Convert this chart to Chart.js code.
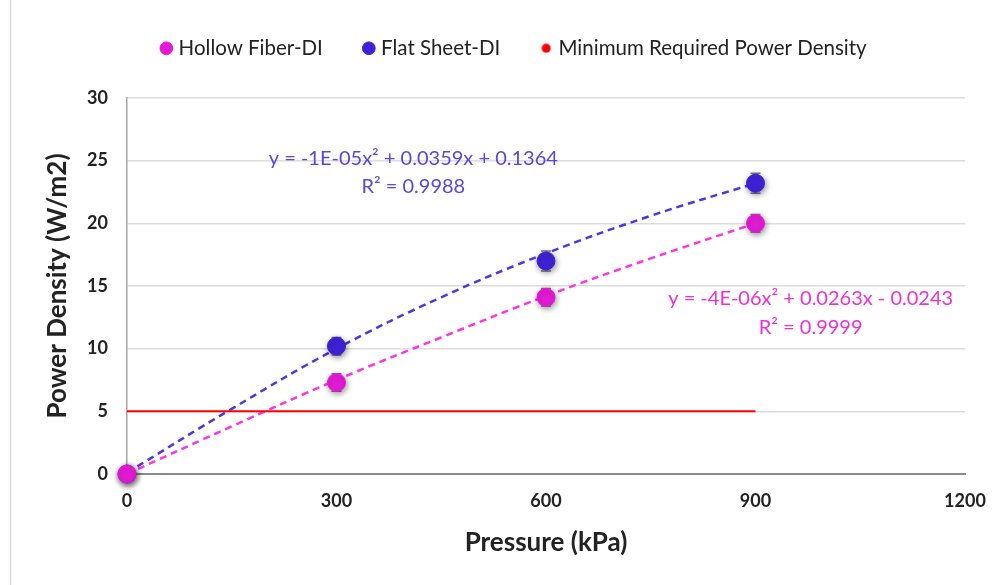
<!DOCTYPE html>
<html>
<head>
<meta charset="utf-8">
<script src="https://cdn.jsdelivr.net/npm/chart.js@4.4.0/dist/chart.umd.min.js"></script>
<style>
  body { margin: 0; background: #fff; }
  #wrap { width: 1003px; height: 585px; }
</style>
</head>
<body>
<div id="wrap"><canvas id="chartCanvas"></canvas></div>
<script>
// pressure (kPa) of the measured points
const pressure = [0, 300, 600, 900];
const hollowFiber = [0, 7.3, 14.1, 20.0];
const flatSheet = [0, 10.2, 17.0, 23.2];
const hollowErr = [0.3, 0.7, 0.7, 0.7];
const flatErr = [0.3, 0.7, 0.8, 0.8];

// trendline points
const trendX = [0, 150, 300, 450, 600, 750, 900];
const hollowTrend = [0, 3.8, 7.5, 10.9, 14.2, 17.2, 20.0];
const flatTrend = [0.1, 5.2, 10.0, 14.1, 17.6, 20.6, 23.2];

// minimum required power density line
const minX = [0, 900];
const minY = [5, 5];

const xTicks = [0, 300, 600, 900, 1200];

const pink = '#e41bd6';
const blue = '#3f22d6';
const FONT = 'Lato, "Open Sans", sans-serif';

const toXY = (xs, ys) => xs.map((x, i) => ({ x: x, y: ys[i] }));

// small red dot for the legend
const redDot = document.createElement('canvas');
redDot.width = 10; redDot.height = 10;
(function () {
  const c = redDot.getContext('2d');
  c.fillStyle = '#ff0000';
  c.beginPath(); c.arc(5, 5, 4.5, 0, Math.PI * 2); c.fill();
})();

// error bars behind markers + a light shadow on the markers
const errorBars = {
  id: 'errorBars',
  beforeDatasetsDraw(chart) {
    const ctx = chart.ctx;
    const xs = chart.scales.x, ys = chart.scales.y;
    [[hollowFiber, hollowErr], [flatSheet, flatErr]].forEach(([vals, errs]) => {
      vals.forEach((v, i) => {
        const px = xs.getPixelForValue(pressure[i]);
        const top = ys.getPixelForValue(v + errs[i]);
        const bot = ys.getPixelForValue(v - errs[i]);
        ctx.save();
        ctx.strokeStyle = '#7a7a7a';
        ctx.lineWidth = 1.5;
        ctx.beginPath();
        ctx.moveTo(px, top); ctx.lineTo(px, bot);
        ctx.moveTo(px - 5, top); ctx.lineTo(px + 5, top);
        ctx.moveTo(px - 5, bot); ctx.lineTo(px + 5, bot);
        ctx.stroke();
        ctx.restore();
      });
    });
  },
  beforeDatasetDraw(chart, args) {
    if (args.meta.type === 'scatter') {
      const ctx = chart.ctx;
      ctx.save();
      ctx.shadowColor = 'rgba(0,0,0,0.45)';
      ctx.shadowBlur = 6;
      ctx.shadowOffsetX = 1;
      ctx.shadowOffsetY = 2;
    }
  },
  afterDatasetDraw(chart, args) {
    if (args.meta.type === 'scatter') chart.ctx.restore();
  }
};

// trendline equations
const equations = {
  id: 'equations',
  afterDatasetsDraw(chart) {
    const ctx = chart.ctx;
    const xs = chart.scales.x, ys = chart.scales.y;
    ctx.save();
    ctx.font = '20px ' + FONT;
    ctx.textAlign = 'center';
    ctx.textBaseline = 'middle';
    ctx.fillStyle = '#5a47e0';
    let cx = xs.getPixelForValue(410);
    ctx.fillText('y = -1E-05x² + 0.0359x + 0.1364', cx, ys.getPixelForValue(25.2));
    ctx.fillText('R² = 0.9988', cx, ys.getPixelForValue(22.95));
    ctx.fillStyle = '#ef2fd3';
    cx = xs.getPixelForValue(979);
    ctx.fillText('y = -4E-06x² + 0.0263x - 0.0243', cx, ys.getPixelForValue(14.0));
    ctx.fillText('R² = 0.9999', cx, ys.getPixelForValue(11.7));
    ctx.restore();
  }
};

// frame line, extra room under the legend, legend nudged into place
const frame = {
  id: 'frame',
  beforeInit(chart) {
    const fit = chart.legend.fit;
    chart.legend.fit = function () {
      fit.bind(chart.legend)();
      this.height = 98 - 20;
    };
  },
  afterLayout(chart) {
    const lg = chart.legend;
    lg.left += 12;
    lg.right += 12;
    lg.top -= 26;
    lg.bottom -= 26;
  },
  beforeDraw(chart) {
    const ctx = chart.ctx;
    ctx.save();
    ctx.strokeStyle = '#d9d9d9';
    ctx.lineWidth = 1.5;
    ctx.beginPath();
    ctx.moveTo(10.5, 0); ctx.lineTo(10.5, 585);
    ctx.stroke();
    ctx.restore();
  }
};

const ctx = document.getElementById('chartCanvas').getContext('2d');

new Chart(ctx, {
  data: {
    datasets: [
      {
        type: 'scatter',
        label: 'Hollow Fiber-DI',
        data: toXY(pressure, hollowFiber),
        backgroundColor: pink,
        borderColor: pink,
        pointRadius: 9,
        pointStyle: 'circle',
        clip: false,
        order: 0
      },
      {
        type: 'scatter',
        label: 'Flat Sheet-DI',
        data: toXY(pressure, flatSheet),
        backgroundColor: blue,
        borderColor: blue,
        pointRadius: 9,
        pointStyle: 'circle',
        clip: false,
        order: 0
      },
      {
        type: 'line',
        label: 'Minimum Required Power Density',
        data: toXY(minX, minY),
        borderColor: '#ff0000',
        backgroundColor: '#ff0000',
        borderWidth: 2,
        pointRadius: 0,
        pointStyle: redDot,
        order: 1
      },
      {
        type: 'line',
        label: 'trendHollow',
        data: toXY(trendX, hollowTrend),
        borderColor: '#ff33e0',
        borderWidth: 2.5,
        borderDash: [7, 5],
        pointRadius: 0,
        tension: 0.4,
        order: 2
      },
      {
        type: 'line',
        label: 'trendFlat',
        data: toXY(trendX, flatTrend),
        borderColor: '#4a35e8',
        borderWidth: 2.5,
        borderDash: [7, 5],
        pointRadius: 0,
        tension: 0.4,
        order: 2
      }
    ]
  },
  options: {
    responsive: true,
    maintainAspectRatio: false,
    animation: false,
    layout: { padding: { left: 42, right: 38, top: 20, bottom: 27 } },
    scales: {
      x: {
        type: 'linear',
        min: 0,
        max: 1200,
        afterBuildTicks: (scale) => { scale.ticks = xTicks.map(v => ({ value: v })); },
        afterFit: (scale) => { scale.height = 585 - 474 - 27; },
        ticks: {
          color: '#222',
          padding: 16,
          callback: (v) => String(v),
          font: { family: FONT, size: 18, weight: 'bold' }
        },
        grid: { display: false, drawTicks: false },
        border: { display: true, color: '#8a8a8a', width: 2 },
        title: {
          display: true,
          text: 'Pressure (kPa)',
          color: '#222',
          padding: { top: 0, bottom: 0 },
          font: { family: FONT, size: 26, weight: 'bold' }
        }
      },
      y: {
        min: 0,
        max: 30,
        afterFit: (scale) => { scale.width = 127 - 42; },
        ticks: {
          stepSize: 5,
          color: '#222',
          padding: 19,
          font: { family: FONT, size: 18, weight: 'bold' }
        },
        grid: {
          drawTicks: false,
          color: (c) => c.tick && c.tick.value === 0 ? '#8a8a8a' : '#dcdcdc',
          lineWidth: (c) => c.tick && c.tick.value === 0 ? 2 : 1.5
        },
        border: { display: true, color: '#a6a6a6', width: 1.5 },
        title: {
          display: true,
          text: 'Power Density (W/m2)',
          color: '#222',
          padding: { top: 0, bottom: 0 },
          font: { family: FONT, size: 26, weight: 'bold' }
        }
      }
    },
    plugins: {
      legend: {
        display: true,
        position: 'top',
        labels: {
          filter: (item) => !item.text.startsWith('trend'),
          usePointStyle: true,
          boxWidth: 4,
          boxHeight: 9,
          padding: 44,
          color: '#222',
          font: { family: FONT, size: 20.5 }
        }
      },
      tooltip: { enabled: false }
    }
  },
  plugins: [errorBars, equations, frame]
});
</script>
</body>
</html>
